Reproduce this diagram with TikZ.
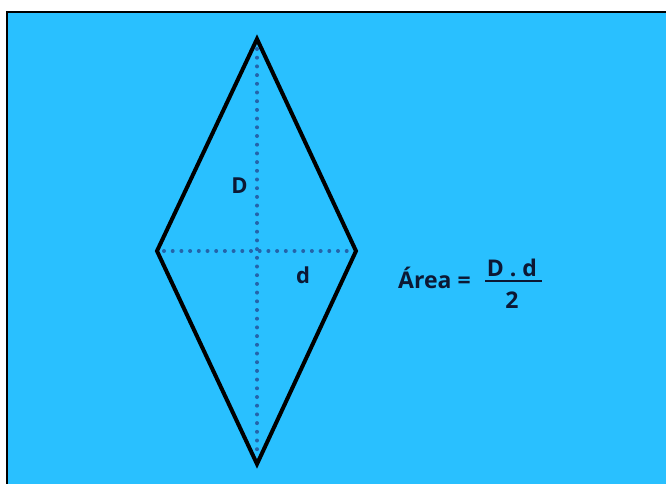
\documentclass[tikz,border=0pt]{standalone}
\usepackage{fontspec}
\setmainfont{Open Sans}
\definecolor{skyb}{RGB}{41,192,255}
\definecolor{navy}{RGB}{12,24,52}
\definecolor{dotc}{RGB}{36,100,170}
\begin{document}
\begin{tikzpicture}[x=1pt,y=-1pt,
  edge/.style={line width=4pt, line join=miter, draw=black},
  dotline/.style={line width=4pt, draw=dotc, line cap=round, dash pattern=on 0pt off 8.7pt},
  lbl/.style={text=navy, font=\bfseries\fontsize{22}{24}\selectfont, inner sep=0pt},
  frm/.style={text=navy, font=\bfseries\fontsize{23}{25}\selectfont, inner sep=0pt}]
\useasboundingbox (0,0) rectangle (666,484);
\fill[white] (0,0) rectangle (666,484);
\fill[skyb] (8,13) rectangle (666,484);
\draw[black, line width=1.6pt] (7.2,484) -- (7.2,12.2) -- (666,12.2);
\coordinate (T) at (257,39);
\coordinate (L) at (157,251);
\coordinate (R) at (356,251);
\coordinate (B) at (257,464);
\coordinate (vt) at (257,49);
\coordinate (vb) at (257,454);
\coordinate (hl) at (164,251);
\coordinate (hr) at (350,251);
\draw[dotline] (vt) -- (vb);
\draw[dotline] (hl) -- (hr);
\draw[edge] (T) -- (R) -- (B) -- (L) -- cycle;
\node[lbl] (D) at (239.5,186) {D};
\node[lbl] (d) at (303,275) {d};
\node[frm, anchor=base west] (area) at (398,288.5) {Área =};
\node[frm] (num) at (512,268) {D . d};
\node[frm] (den) at (512,300) {2};
\draw[navy, line width=1.6pt] (485,281) -- (542,281);
\end{tikzpicture}
\end{document}
